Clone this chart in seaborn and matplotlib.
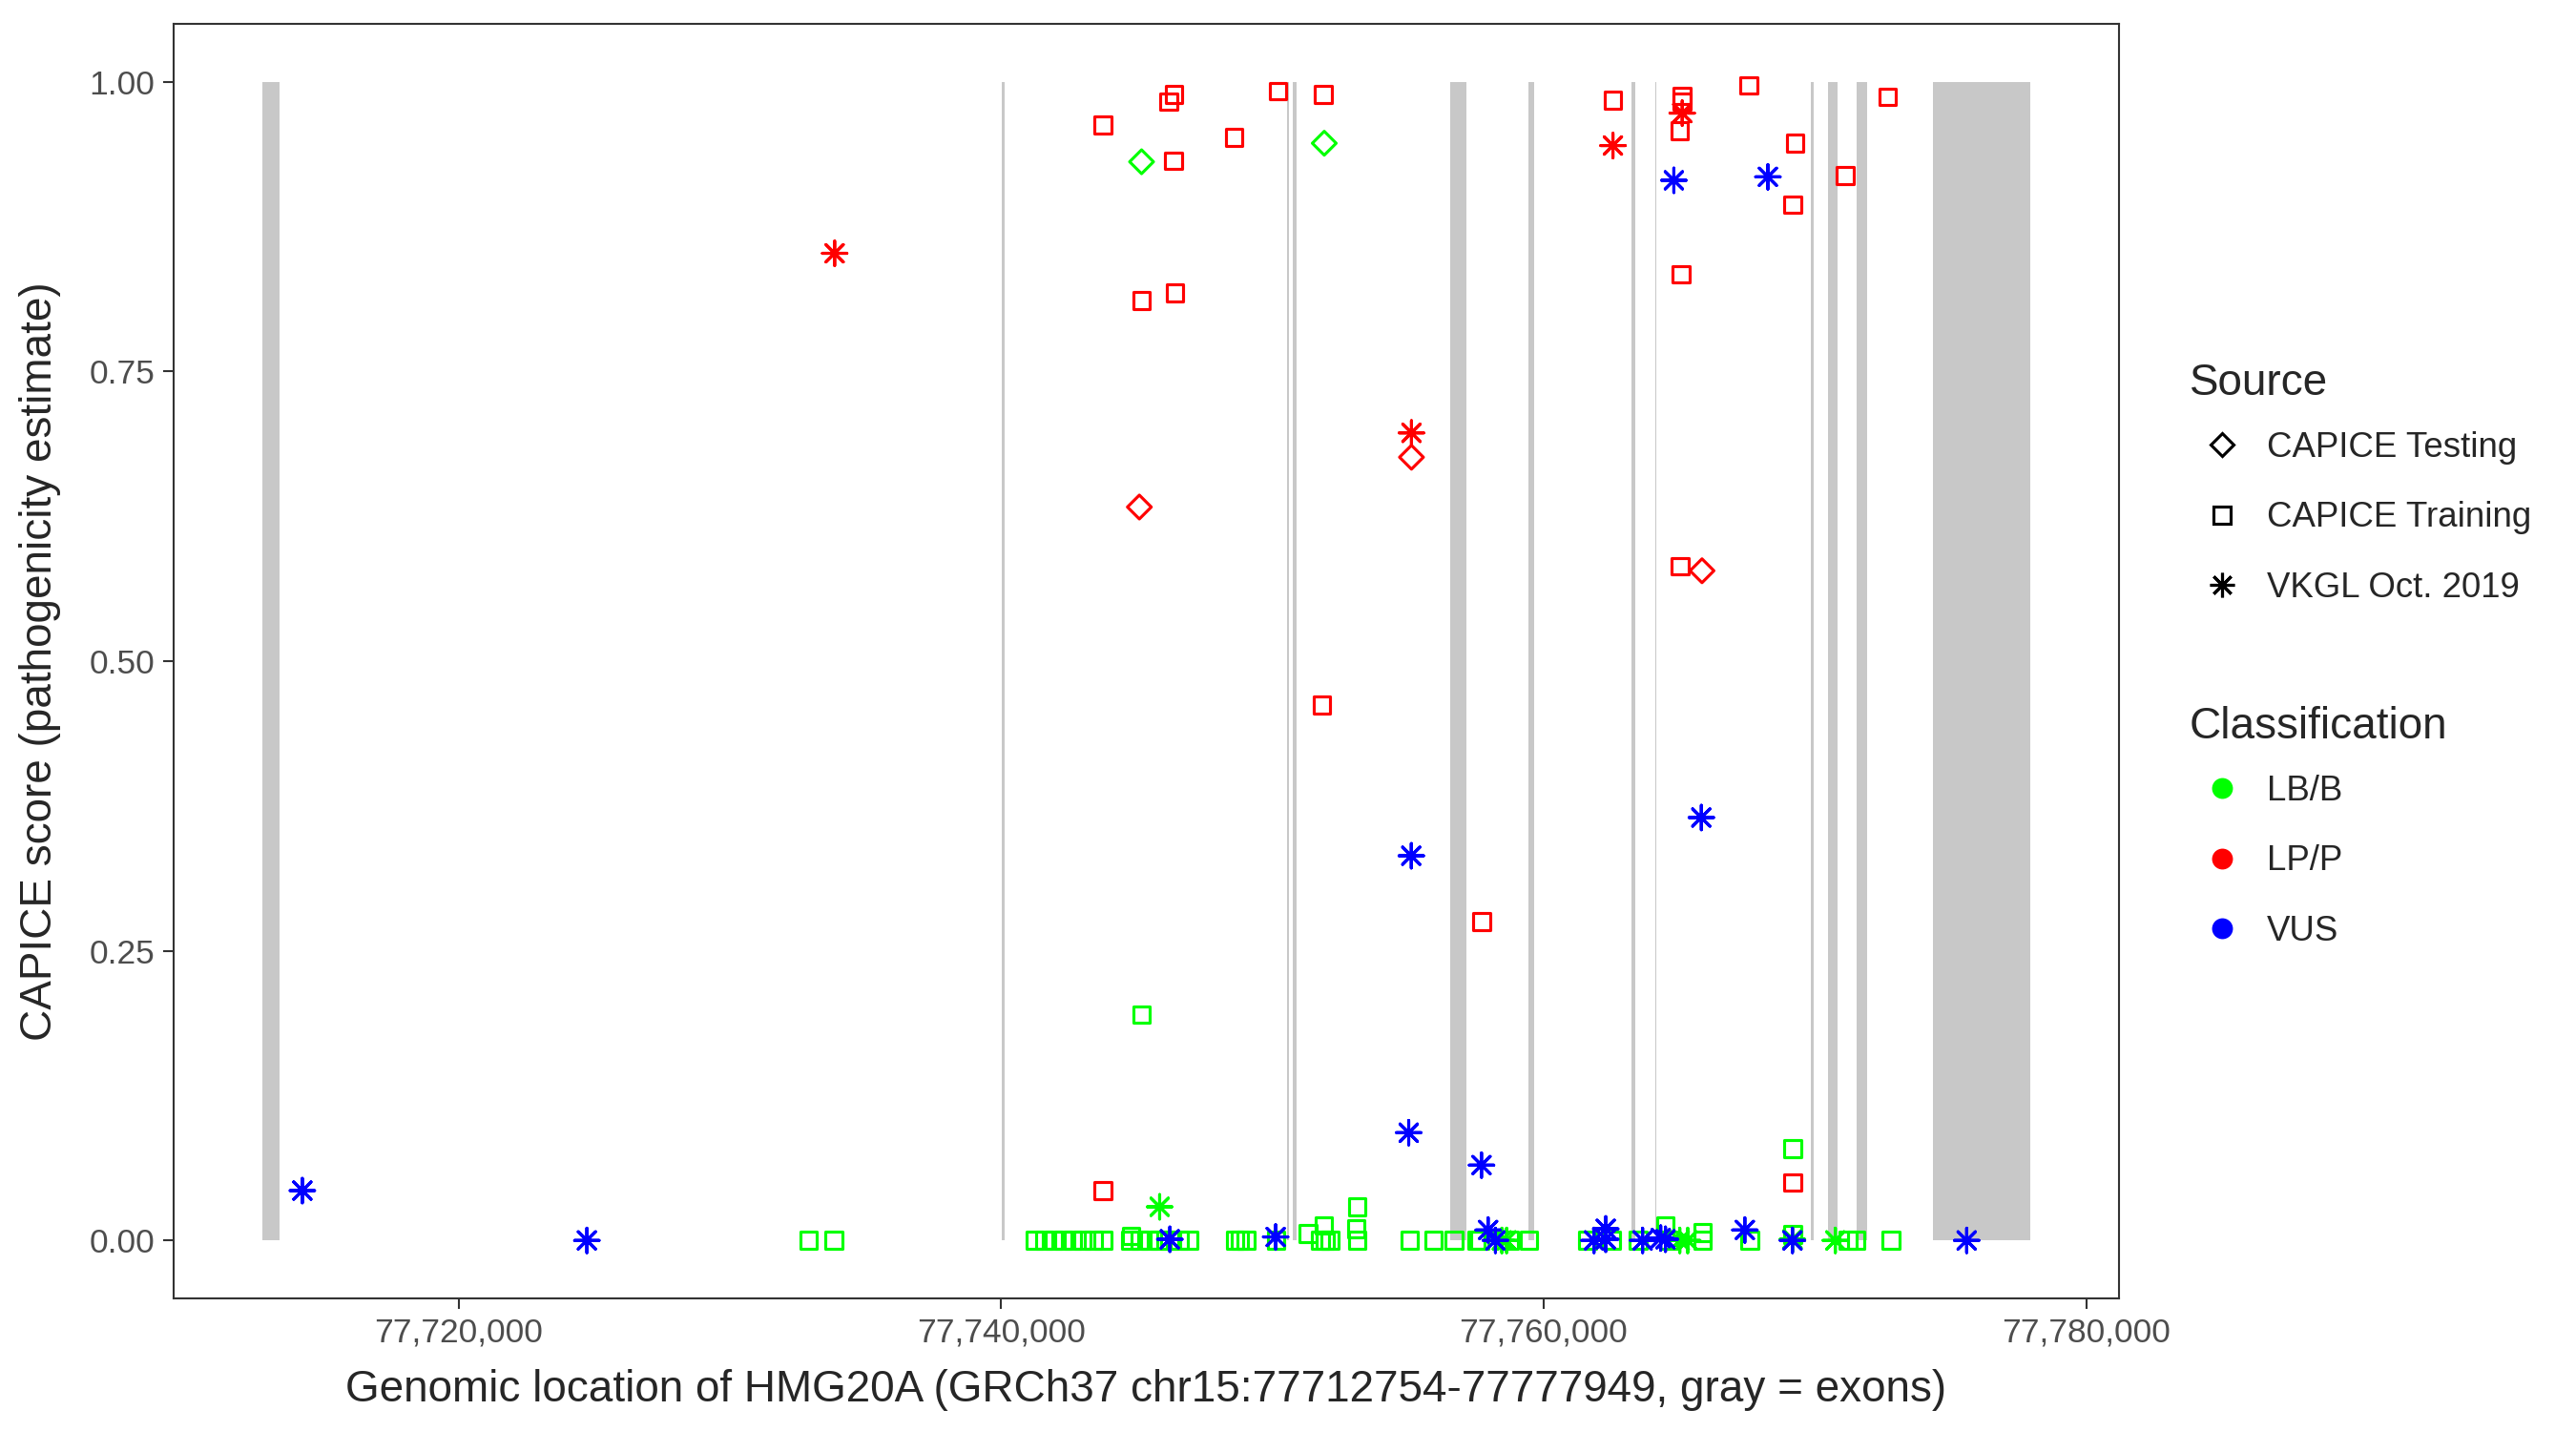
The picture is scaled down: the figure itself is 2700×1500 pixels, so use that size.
import matplotlib
matplotlib.use('Agg')  # pas d'affichage
import matplotlib.pyplot as plt
from matplotlib.lines import Line2D
from matplotlib.markers import MarkerStyle
from matplotlib.transforms import Affine2D
from matplotlib.ticker import FuncFormatter
import seaborn as sns
import pandas as pd
import numpy as np

# exons of HMG20A (GRCh37 chr15)
exon_start = [77712754, 77740035, 77750552, 77750738, 77756560, 77759427,
              77763225, 77764113, 77769865, 77770472, 77771519, 77774362]
exon_end = [77713404, 77740126, 77750622, 77750904, 77757143, 77759638,
            77763366, 77764150, 77769960, 77770844, 77771937, 77777949]

# CAPICE Testing
test_pos = [77745176, 77751911, 77755126, 77745095, 77765836]
test_score = [0.931, 0.947, 0.676, 0.633, 0.578]
test_cls = ['LB/B', 'LB/B', 'LP/P', 'LP/P', 'LP/P']

# CAPICE Training, LP/P
train_lp_pos = [77743749, 77746170, 77746370, 77750203, 77751869, 77748591,
                77746356, 77745176, 77746412, 77751824, 77757708, 77743749,
                77762553, 77765107, 77765107, 77765010, 77767556, 77769264,
                77771104, 77769183, 77772679, 77765067, 77765018, 77769183]
train_lp_score = [0.963, 0.983, 0.989, 0.992, 0.989, 0.952,
                  0.932, 0.811, 0.818, 0.462, 0.275, 0.043,
                  0.984, 0.988, 0.983, 0.958, 0.997, 0.947,
                  0.919, 0.894, 0.987, 0.834, 0.582, 0.050]

# CAPICE Training, LB/B
train_lb_pos = [77732896, 77733845, 77745171, 77769183, 77753126, 77753093,
                77751314, 77751897, 77764490, 77765860, 77769171, 77744788,
                77741240, 77741591, 77741943, 77742294, 77742645, 77742997,
                77743408, 77743759, 77744753, 77745104, 77745456, 77745807,
                77746218, 77746570, 77746921, 77748618, 77748794, 77749029,
                77750140, 77751781, 77751957, 77752133, 77753128, 77755060,
                77755938, 77756701, 77757520, 77757637, 77758750, 77759453,
                77761621, 77762498, 77763492, 77764606, 77765860, 77767592,
                77771219, 77771514, 77772800]
train_lb_score = [0.0, 0.0, 0.195, 0.079, 0.029, 0.010,
                  0.006, 0.013, 0.013, 0.007, 0.005, 0.004,
                  0.0, 0.0, 0.0, 0.0, 0.0, 0.0,
                  0.0, 0.0, 0.0, 0.0, 0.0, 0.0,
                  0.0, 0.0, 0.0, 0.0, 0.0, 0.0,
                  0.0, 0.0, 0.0, 0.0, 0.0, 0.0,
                  0.0, 0.0, 0.0, 0.0, 0.0, 0.0,
                  0.0, 0.0, 0.0, 0.0, 0.0, 0.0,
                  0.0, 0.0, 0.0]

# VKGL Oct. 2019
vkgl_lp_pos = [77733862, 77755126, 77762553, 77765107]
vkgl_lp_score = [0.852, 0.697, 0.945, 0.973]
vkgl_vus_pos = [77714240, 77724728, 77764799, 77768265, 77765811, 77755119,
                77755024, 77757708, 77746218, 77750119, 77757953, 77758221,
                77761855, 77762287, 77762287, 77763647, 77764315, 77764490,
                77767416, 77769171, 77775593]
vkgl_vus_score = [0.043, 0.0, 0.915, 0.918, 0.365, 0.332,
                  0.093, 0.065, 0.001, 0.003, 0.009, 0.0,
                  0.0, 0.010, 0.001, 0.0, 0.002, 0.001,
                  0.009, 0.0, 0.0]
vkgl_lb_pos = [77745843, 77758457, 77758633, 77765017, 77765309, 77769171, 77770751]
vkgl_lb_score = [0.029, 0.0, 0.0, 0.0, 0.0, 0.001, 0.0]

SOURCES = ['CAPICE Testing', 'CAPICE Training', 'VKGL Oct. 2019']
CLASSES = ['LB/B', 'LP/P', 'VUS']
COLORS = {'LB/B': '#00FF00', 'LP/P': '#FF0000', 'VUS': '#0000FF'}
EXON_GRAY = '#C8C8C8'
MARKERS = {
    'CAPICE Testing': MarkerStyle('D', fillstyle='none'),
    'CAPICE Training': MarkerStyle('s', fillstyle='none'),
    'VKGL Oct. 2019': MarkerStyle((8, 2, 0), transform=Affine2D().scale(1.45)),
}
PT_SIZE = 72
PT_LW = 1.5

sns.set_style('ticks')
plt.rcParams['font.family'] = ['Liberation Sans', 'DejaVu Sans']

df = pd.concat([
    pd.DataFrame({'pos': train_lb_pos, 'score': train_lb_score, 'cls': 'LB/B', 'source': 'CAPICE Training'}),
    pd.DataFrame({'pos': train_lp_pos, 'score': train_lp_score, 'cls': 'LP/P', 'source': 'CAPICE Training'}),
    pd.DataFrame({'pos': test_pos, 'score': test_score, 'cls': test_cls, 'source': 'CAPICE Testing'}),
    pd.DataFrame({'pos': vkgl_lb_pos, 'score': vkgl_lb_score, 'cls': 'LB/B', 'source': 'VKGL Oct. 2019'}),
    pd.DataFrame({'pos': vkgl_lp_pos, 'score': vkgl_lp_score, 'cls': 'LP/P', 'source': 'VKGL Oct. 2019'}),
    pd.DataFrame({'pos': vkgl_vus_pos, 'score': vkgl_vus_score, 'cls': 'VUS', 'source': 'VKGL Oct. 2019'}),
], ignore_index=True)

fig, ax = plt.subplots(figsize=(18, 10))
fig.subplots_adjust(left=0.0674, right=0.8226, top=0.9833, bottom=0.0927)

# exons en gris
starts = np.array(exon_start)
ends = np.array(exon_end)
ax.bar(starts, np.ones(len(starts)), width=ends - starts, align='edge',
       color=EXON_GRAY, linewidth=0, zorder=1)

sns.scatterplot(data=df, x='pos', y='score', hue='cls', style='source',
                hue_order=CLASSES, style_order=SOURCES, palette=COLORS,
                markers=MARKERS, s=PT_SIZE, linewidth=PT_LW, legend=False,
                ax=ax, zorder=3)
# symboles creux comme dans ggplot
pts = ax.collections[-1]
pts.set_edgecolors(pts.get_facecolors())
pts.set_facecolors('none')

# limites avec expansion de 5 %
span = exon_end[-1] - exon_start[0]
ax.set_xlim(exon_start[0] - 0.05 * span, exon_end[-1] + 0.05 * span)
ax.set_ylim(-0.05, 1.05)
ax.set_xticks([77720000, 77740000, 77760000, 77780000])
ax.xaxis.set_major_formatter(FuncFormatter(lambda v, p: f'{v:,.0f}'))
ax.set_yticks([0, 0.25, 0.5, 0.75, 1.0])
ax.set_yticklabels(['0.00', '0.25', '0.50', '0.75', '1.00'])

for sp in ax.spines.values():
    sp.set_visible(True)
    sp.set_color('#333333')
    sp.set_linewidth(1.0)
ax.tick_params(direction='out', length=5.5, width=1.0, color='#333333',
               labelsize=17, labelcolor='#4D4D4D', pad=4)
ax.grid(False)

ax.set_xlabel('Genomic location of HMG20A (GRCh37 chr15:77712754-77777949, gray = exons)',
              fontsize=22, labelpad=10)
ax.set_ylabel('CAPICE score (pathogenicity estimate)', fontsize=22, labelpad=14)

# légendes style ggplot
src_handles = [Line2D([], [], marker=MARKERS[s], linestyle='none', color='black',
                      markeredgecolor='black', markeredgewidth=PT_LW,
                      markersize=np.sqrt(PT_SIZE), label=s) for s in SOURCES]
cls_handles = [Line2D([], [], marker='o', linestyle='none', color=COLORS[c],
                      markersize=9.5, label=c) for c in CLASSES]
leg_kw = dict(loc='upper left', bbox_transform=fig.transFigure, frameon=False,
              fontsize=17.6, title_fontsize=22, labelspacing=1.05,
              handlelength=1.85, handletextpad=0.36, borderpad=0,
              borderaxespad=0, alignment='left')
leg1 = ax.legend(handles=src_handles, title='Source',
                 bbox_to_anchor=(2295 / 2700, 1 - 380 / 1500), **leg_kw)
leg1._legend_box.sep = 13.4  # écart titre / entrées plus serré
ax.add_artist(leg1)
leg2 = ax.legend(handles=cls_handles, title='Classification',
                 bbox_to_anchor=(2295 / 2700, 1 - 740 / 1500), **leg_kw)
leg2._legend_box.sep = 13.4

fig.savefig('out.png', dpi=150)
plt.close()
